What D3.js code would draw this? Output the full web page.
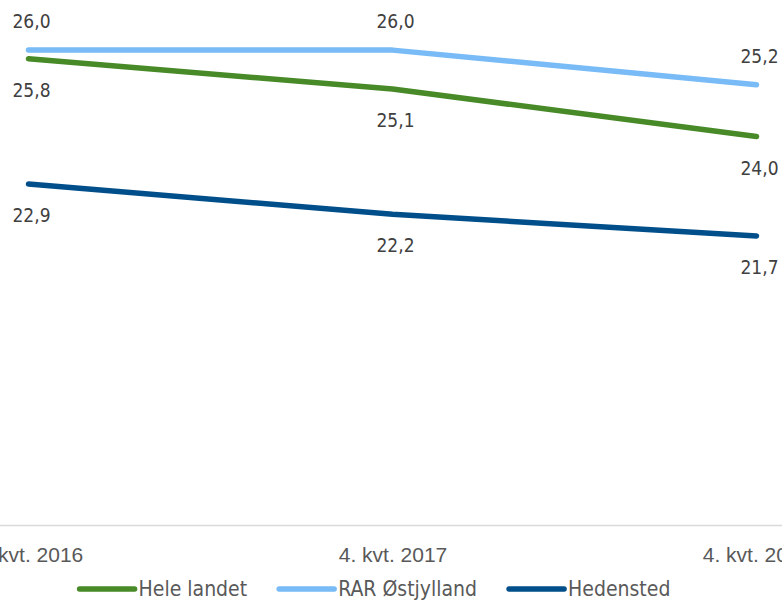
<!DOCTYPE html>
<html>
<head>
<meta charset="utf-8">
<script src="https://cdn.jsdelivr.net/npm/d3@7"></script>
<style>
  body { margin: 0; background: #fff; }
  svg { display: block; font-family: "DejaVu Sans Condensed", "DejaVu Sans", sans-serif; }
</style>
</head>
<body>
<svg id="chart" viewBox="0 0 782 602" width="782" height="602"></svg>
<script>
// categories and series
const quarters = ["4. kvt. 2016", "4. kvt. 2017", "4. kvt. 2018"];
const seriesNames = ["Hele landet", "RAR Østjylland", "Hedensted"];
const heleLandet = [25.8, 25.1, 24.0];
const rarOstjylland = [26.0, 26.0, 25.2];
const hedensted = [22.9, 22.2, 21.7];
const yMin = 15;
const yMax = 27;

const colors = ["#478a27", "#78bbf6", "#004f8b"];
// label above (true) or below the line
const labelAbove = [false, true, false];

const series = [heleLandet, rarOstjylland, hedensted].map((vals, i) => ({
  name: seriesNames[i],
  color: colors[i],
  above: labelAbove[i],
  values: vals.map((v, j) => ({ q: quarters[j], v: v })),
}));

const svg = d3.select("#chart");

const xScale = d3.scalePoint().domain(quarters).range([28.5, 756.5]);
const yScale = d3.scaleLinear().domain([yMin, yMax]).range([525.5, 6.9]);

const fmt = (v) => d3.format(".1f")(v).replace(".", ",");

// axis baseline
svg
  .append("line")
  .attr("x1", 0)
  .attr("x2", 782)
  .attr("y1", yScale(yMin))
  .attr("y2", yScale(yMin))
  .style("stroke", "#d9d9d9")
  .style("stroke-width", 1.5);

// x axis labels
const xAxis = d3.axisBottom(xScale).tickSize(0).tickPadding(0);
const xAxisG = svg
  .append("g")
  .attr("transform", `translate(0 ${yScale(yMin)})`)
  .call(xAxis);
xAxisG.select("path").remove();
xAxisG
  .selectAll("text")
  .attr("dy", null)
  .attr("y", 36)
  .style("font-family", null)
  .style("font-size", "21px")
  .style("fill", "#595959");

const line = d3
  .line()
  .x((d) => xScale(d.q))
  .y((d) => yScale(d.v));

const lineG = svg.append("g");
lineG
  .selectAll("path")
  .data(series)
  .enter()
  .append("path")
  .attr("d", (d) => line(d.values))
  .style("fill", "none")
  .style("stroke", (d) => d.color)
  .style("stroke-width", 5.5)
  .style("stroke-linecap", "round")
  .style("stroke-linejoin", "round");

// data labels
const labelG = svg.append("g");
series.forEach((s) => {
  labelG
    .selectAll(null)
    .data(s.values)
    .enter()
    .append("text")
    .attr("x", (d) => xScale(d.q) + 3)
    .attr("y", (d) => yScale(d.v) + (s.above ? -22 : 38))
    .attr("text-anchor", "middle")
    .style("font-size", "19px")
    .style("fill", "#404040")
    .text((d) => fmt(d.v));
});

// legend
const legendG = svg.append("g").attr("transform", "translate(0 589)");
const items = legendG
  .selectAll("g")
  .data(series)
  .enter()
  .append("g");
items
  .append("line")
  .attr("x1", 0)
  .attr("x2", 55)
  .style("stroke", (d) => d.color)
  .style("stroke-width", 5.5)
  .style("stroke-linecap", "round");
items
  .append("text")
  .attr("x", 59)
  .attr("dy", "0.35em")
  .style("font-size", "21px")
  .style("fill", "#595959")
  .text((d) => d.name);

let offset = 0;
const widths = [];
items.each(function () {
  widths.push(this.getBBox().width);
});
const gap = 32;
const total = d3.sum(widths) + gap * (widths.length - 1);
let start = 375 - total / 2;
items.attr("transform", (d, i) => {
  const x = start + offset;
  offset += widths[i] + gap;
  return `translate(${x} 0)`;
});
</script>
</body>
</html>
